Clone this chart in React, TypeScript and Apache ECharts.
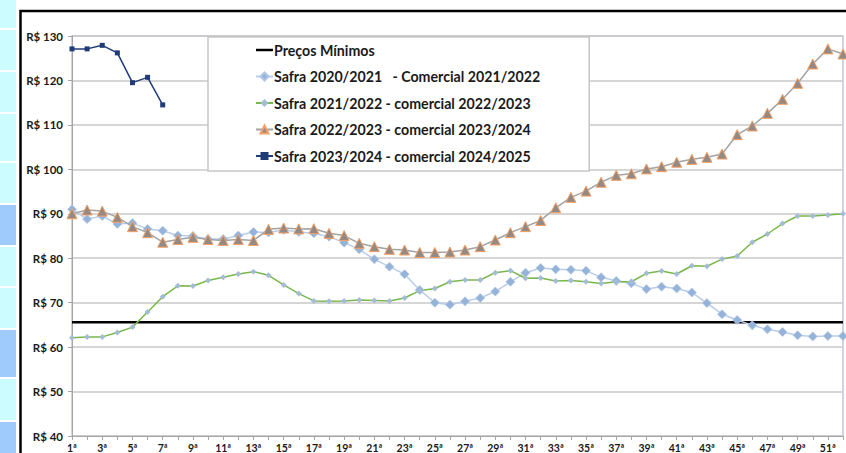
import React, { useEffect, useRef } from "react";
import * as echarts from "echarts";

const weeks: string[] = Array.from({ length: 52 }, (_, i) => `${i + 1}ª`);

const seriesNames = [
  "Preços Mínimos",
  "Safra 2020/2021   - Comercial 2021/2022",
  "Safra 2021/2022 - comercial 2022/2023",
  "Safra 2022/2023 - comercial 2023/2024",
  "Safra 2023/2024 - comercial 2024/2025",
];

const precoMinimo = 65.6;

const safra2020: number[] = [
  91.0, 88.8, 89.5, 87.7, 87.9, 86.6, 86.2, 85.1, 85.0, 84.3,
  84.3, 85.1, 85.9, 85.8, 86.35, 85.9, 85.6, 84.85, 83.5, 82.0,
  79.75, 78.1, 76.4, 72.85, 70.0, 69.55, 70.3, 71.05, 72.5, 74.7,
  76.75, 77.8, 77.5, 77.4, 77.2, 75.7, 74.9, 74.35, 73.05, 73.6,
  73.2, 72.3, 69.9, 67.4, 66.1, 64.9, 64.0, 63.4, 62.65, 62.4,
  62.5, 62.5,
];

const safra2021: number[] = [
  62.1, 62.3, 62.3, 63.3, 64.5, 67.9, 71.35, 73.8, 73.75, 75.0,
  75.7, 76.45, 76.97, 76.15, 74.0, 72.05, 70.4, 70.3, 70.4, 70.6,
  70.5, 70.4, 71.05, 72.7, 73.2, 74.7, 75.1, 75.1, 76.75, 77.2,
  75.5, 75.55, 74.9, 75.0, 74.7, 74.3, 74.7, 74.7, 76.6, 77.1,
  76.45, 78.3, 78.2, 79.8, 80.5, 83.6, 85.45, 87.8, 89.5, 89.5,
  89.7, 90.0,
];

const safra2022: number[] = [
  90.0, 90.85, 90.6, 89.2, 87.1, 85.75, 83.6, 84.2, 84.7, 84.2,
  84.0, 84.2, 84.0, 86.5, 86.8, 86.6, 86.65, 85.6, 85.1, 83.35,
  82.6, 82.0, 81.85, 81.3, 81.3, 81.4, 81.85, 82.6, 84.1, 85.75,
  87.1, 88.5, 91.35, 93.7, 95.1, 97.1, 98.65, 99.0, 100.1, 100.6,
  101.6, 102.25, 102.7, 103.45, 107.8, 109.75, 112.6, 115.75, 119.35, 123.7,
  127.1, 125.95,
];

const safra2023: number[] = [127.1, 127.1, 127.9, 126.2, 119.5, 120.7, 114.5];

const yMin = 40;
const yMax = 130;
const yStep = 10;

// decorative strip on the left edge (background of the source image)
const stripBlocks: { y: number; h: number; c: string }[] = [
  { y: 0, h: 28, c: "#ccfcff" },
  { y: 30, h: 40, c: "#ccfcff" },
  { y: 72, h: 40, c: "#ccfcff" },
  { y: 114, h: 47, c: "#ccfcff" },
  { y: 163, h: 40, c: "#ccfcff" },
  { y: 205, h: 40, c: "#9ecbfb" },
  { y: 247, h: 39, c: "#ccfcff" },
  { y: 288, h: 40, c: "#ccfcff" },
  { y: 330, h: 47, c: "#9ecbfb" },
  { y: 379, h: 41, c: "#ccfcff" },
  { y: 422, h: 31, c: "#9ecbfb" },
];

const FONT = "Lato, 'Liberation Sans', sans-serif";

export default function App() {
  const ref = useRef<HTMLDivElement>(null);

  useEffect(() => {
    if (!ref.current) return;
    const chart = echarts.init(ref.current, undefined, { renderer: "svg" });

    const graphics: any[] = stripBlocks.map((b) => ({
      type: "rect",
      shape: { x: 0, y: b.y, width: 16, height: b.h },
      style: { fill: b.c },
      silent: true,
      z: -10,
    }));
    graphics.push({
      type: "rect",
      shape: { x: 20.5, y: 11, width: 1000, height: 1000 },
      style: { fill: "none", stroke: "#000", lineWidth: 2.5 },
      silent: true,
      z: -5,
    });

    chart.setOption({
      animation: false,
      backgroundColor: "#fff",
      textStyle: { fontFamily: FONT },
      graphic: graphics,
      grid: {
        left: 72,
        right: 3,
        top: 36,
        bottom: 17,
        show: true,
        borderColor: "#c4c4dc",
        borderWidth: 1.5,
        backgroundColor: "transparent",
      },
      legend: {
        orient: "vertical",
        left: 208,
        top: 37,
        padding: [6, 49, 8, 47],
        itemGap: 12.5,
        itemWidth: 17,
        itemHeight: 10,
        backgroundColor: "#fff",
        borderColor: "#c6c6c6",
        borderWidth: 1.5,
        borderRadius: 0,
        data: [
          { name: seriesNames[0], icon: "path://M0,0 H24 V3.5 H0 Z" },
          seriesNames[1],
          seriesNames[2],
          seriesNames[3],
          seriesNames[4],
        ],
        textStyle: {
          fontFamily: FONT,
          fontWeight: "bold",
          fontSize: 14.2,
          color: "#1a1a1a",
          lineHeight: 14,
          padding: [0, 0, 0, -4],
        },
      },
      xAxis: {
        type: "category",
        data: weeks,
        boundaryGap: false,
        axisLine: { lineStyle: { color: "#a6a6a6", width: 1 } },
        axisTick: { show: true, length: 4, interval: 0, lineStyle: { color: "#a6a6a6" } },
        axisLabel: {
          interval: 1,
          margin: 6,
          fontFamily: FONT,
          fontWeight: "bold",
          fontSize: 10.5,
          color: "#1a1a1a",
        },
        splitLine: { show: false },
      },
      yAxis: {
        type: "value",
        min: yMin,
        max: yMax,
        interval: yStep,
        axisLine: { show: true, lineStyle: { color: "#a6a6a6", width: 1 } },
        axisTick: { show: true, length: 4, lineStyle: { color: "#a6a6a6" } },
        axisLabel: {
          formatter: (v: number) => `R$ ${v}`,
          margin: 9,
          fontFamily: FONT,
          fontWeight: "bold",
          fontSize: 11.5,
          color: "#1a1a1a",
        },
        splitLine: { show: true, lineStyle: { color: "#c8c8c8", width: 1.5 } },
      },
      series: [
        {
          name: seriesNames[0],
          type: "line",
          data: weeks.map(() => precoMinimo),
          symbol: "none",
          lineStyle: { color: "#000", width: 2.5 },
          itemStyle: { color: "#000" },
          z: 2,
        },
        {
          name: seriesNames[1],
          type: "line",
          data: safra2020,
          symbol: "diamond",
          symbolSize: 9,
          showAllSymbol: true,
          lineStyle: { color: "#b9cde8", width: 1.5 },
          itemStyle: { color: "#95b3d9", borderColor: "#b0c6e4", borderWidth: 0.8 },
          z: 3,
        },
        {
          name: seriesNames[2],
          type: "line",
          data: safra2021,
          symbol: "diamond",
          symbolSize: 6,
          showAllSymbol: true,
          lineStyle: { color: "#78b84a", width: 1.5 },
          itemStyle: { color: "#a4bcd6" },
          z: 3,
        },
        {
          name: seriesNames[3],
          type: "line",
          data: safra2022,
          symbol: "triangle",
          symbolSize: 10,
          showAllSymbol: true,
          lineStyle: { color: "#a3a3a3", width: 1.5 },
          itemStyle: { color: "#948a83", borderColor: "#f5a066", borderWidth: 1 },
          z: 4,
        },
        {
          name: seriesNames[4],
          type: "line",
          data: safra2023,
          symbol: "rect",
          symbolSize: 5,
          showAllSymbol: true,
          lineStyle: { color: "#1f3b78", width: 1.5 },
          itemStyle: { color: "#1f3b78" },
          z: 5,
        },
      ],
    });

    return () => chart.dispose();
  }, []);

  return (
    <div
      ref={ref}
      style={{ position: "absolute", left: 0, top: 0, width: 846, height: 453 }}
    />
  );
}
